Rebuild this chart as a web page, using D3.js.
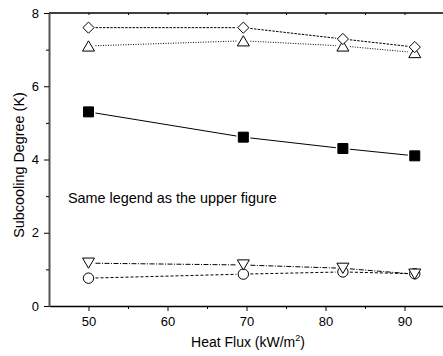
<!DOCTYPE html>
<html>
<head>
<meta charset="utf-8">
<script src="https://cdn.jsdelivr.net/npm/d3@7"></script>
<style>
body { margin: 0; background: #fff; }
text { font-family: "Liberation Sans", Arial, sans-serif; fill: #000; }
</style>
</head>
<body>
<svg id="chart" width="443" height="356"></svg>
<script>
// heat flux values (kW/m2)
var heatFlux = [50, 69.6, 82.2, 91.3];
// subcooling degree for each series
var diamondVals = [7.6, 7.6, 7.29, 7.07];
var triUpVals = [7.1, 7.24, 7.1, 6.92];
var squareVals = [5.3, 4.61, 4.3, 4.1];
var triDownVals = [1.17, 1.12, 1.03, 0.87];
var circleVals = [0.76, 0.87, 0.93, 0.88];
var xTicks = [50, 60, 70, 80, 90];
var yTicks = [0, 2, 4, 6, 8];

// marker shapes drawn around (0,0), half-size r
function diamond(r) { return "M0," + (-r) + "L" + r + ",0L0," + r + "L" + (-r) + ",0Z"; }
function triUp(r) { return "M0," + (-r * 0.85) + "L" + r + "," + (r * 0.85) + "L" + (-r) + "," + (r * 0.85) + "Z"; }
function triDown(r) { return "M0," + (r * 0.85) + "L" + r + "," + (-r * 0.85) + "L" + (-r) + "," + (-r * 0.85) + "Z"; }
function square(r) { return "M" + (-r) + "," + (-r) + "H" + r + "V" + r + "H" + (-r) + "Z"; }
function circle(r) { return d3.symbol(d3.symbolCircle, Math.PI * r * r)(); }

var series = [
    {vals: circleVals, shape: circle(5.2), fill: "#fff", dash: "3,2"},
    {vals: triDownVals, shape: triDown(6), fill: "#fff", dash: "5,1.5,1,1.5"},
    {vals: squareVals, shape: square(5), fill: "#000", dash: null},
    {vals: triUpVals, shape: triUp(6), fill: "#fff", dash: "1,1.5"},
    {vals: diamondVals, shape: diamond(5.6), fill: "#fff", dash: "2.5,1.2"}
];

var svg = d3.select("#chart");
var mLeft = 49, mTop = 13, mRight = 444, mBottom = 306;

var x = d3.scaleLinear().domain([45, 95]).range([mLeft, mRight]);
var y = d3.scaleLinear().domain([0, 8]).range([mBottom, mTop]);

// frame
svg.append("line").attr("x1", mLeft).attr("x2", mRight).attr("y1", mTop).attr("y2", mTop)
    .attr("stroke", "#000").attr("stroke-width", 1.3);

// top ticks (inward, small)
svg.append("g").attr("transform", "translate(0," + mTop + ")")
    .call(d3.axisBottom(x).tickValues(d3.range(50, 95, 5)).tickSize(2).tickFormat(""))
    .call(function (g) { g.select(".domain").remove(); });

// bottom axis
var xAxis = svg.append("g").attr("transform", "translate(0," + mBottom + ")")
    .call(d3.axisBottom(x).tickValues(xTicks).tickSize(5).tickPadding(6).tickSizeOuter(0));
xAxis.append("g").call(d3.axisBottom(x).tickValues([55, 65, 75, 85]).tickSize(3).tickFormat(""))
    .select(".domain").remove();
xAxis.select(".domain").attr("stroke-width", 1.3);
xAxis.selectAll("text").attr("font-size", 13).style("font-family", "Liberation Sans, Arial, sans-serif");

// left axis
var yAxis = svg.append("g").attr("transform", "translate(" + mLeft + ",0)")
    .call(d3.axisLeft(y).tickValues(yTicks).tickSize(5).tickPadding(5).tickSizeOuter(0));
yAxis.append("g").call(d3.axisLeft(y).tickValues([1, 3, 5, 7]).tickSize(3).tickFormat(""))
    .select(".domain").remove();
yAxis.select(".domain").attr("stroke", "#555").attr("stroke-width", 2);
yAxis.selectAll("text").attr("font-size", 13).style("font-family", "Liberation Sans, Arial, sans-serif");

// series lines, broken around the markers
series.forEach(function (s) {
    var pts = heatFlux.map(function (h, i) { return [x(h), y(s.vals[i])]; });
    var gap = 7;
    for (var i = 0; i < pts.length - 1; i += 1) {
        var dx = pts[i + 1][0] - pts[i][0], dy = pts[i + 1][1] - pts[i][1];
        var l = Math.sqrt(dx * dx + dy * dy);
        var ux = dx / l, uy = dy / l;
        svg.append("line")
            .attr("x1", pts[i][0] + ux * gap).attr("y1", pts[i][1] + uy * gap)
            .attr("x2", pts[i + 1][0] - ux * gap).attr("y2", pts[i + 1][1] - uy * gap)
            .attr("stroke", "#000").attr("stroke-width", 1)
            .attr("stroke-dasharray", s.dash);
    }
});

series.forEach(function (s) {
    svg.selectAll(null).data(heatFlux).enter().append("path")
        .attr("d", s.shape)
        .attr("transform", function (d, i) {
            return "translate(" + x(d) + "," + y(s.vals[i]) + ")";
        })
        .attr("fill", s.fill).attr("stroke", "#000").attr("stroke-width", 1);
});

// annotation
svg.append("text").attr("x", 68).attr("y", 203).attr("font-size", 14.4)
    .text("Same legend as the upper figure");

// axis titles
var xt = svg.append("text").attr("x", 248).attr("y", 347).attr("text-anchor", "middle").attr("font-size", 14);
xt.append("tspan").text("Heat Flux (kW/m");
xt.append("tspan").attr("font-size", 9).attr("dy", -6).text("2");
xt.append("tspan").attr("dy", 6).text(")");

svg.append("text").attr("transform", "translate(24,165) rotate(-90)")
    .attr("text-anchor", "middle").attr("font-size", 14.4)
    .text("Subcooling Degree (K)");
</script>
</body>
</html>
